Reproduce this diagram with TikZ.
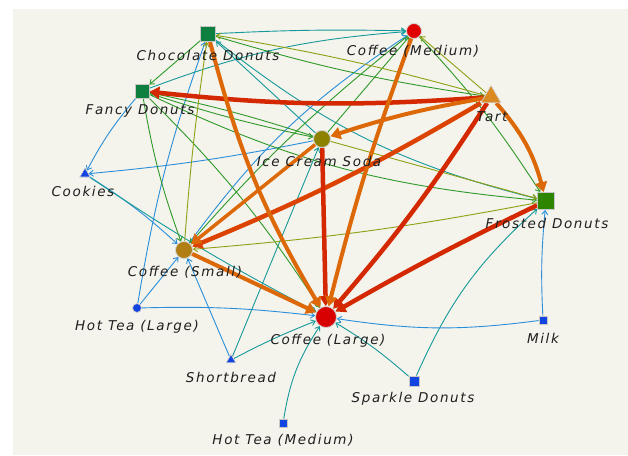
\documentclass[tikz,border=0pt]{standalone}
\usepackage{fontspec}
\setmainfont{DejaVu Sans}
\newfontfamily\lblfont[LetterSpace=12]{DejaVu Sans}
\usetikzlibrary{arrows.meta,shapes.geometric}
\definecolor{bgc}{HTML}{F4F3EC}
\definecolor{cred}{HTML}{D42800}
\definecolor{credor}{HTML}{DC4200}
\definecolor{corange}{HTML}{DC6808}
\definecolor{cgreen}{HTML}{2F9A2A}
\definecolor{cteal}{HTML}{16999A}
\definecolor{cblue}{HTML}{2A8FDA}
\definecolor{colive}{HTML}{8FA012}
\definecolor{ndkgreen}{HTML}{0E7F3E}
\definecolor{nfgreen}{HTML}{2E8500}
\definecolor{nblue}{HTML}{1244E0}
\definecolor{nred}{HTML}{E00000}
\definecolor{nredb}{HTML}{D80000}
\definecolor{ngold}{HTML}{B07E12}
\definecolor{nolive}{HTML}{8C8200}
\definecolor{norange}{HTML}{DB8A22}
\pgfdeclarelayer{bg}
\pgfdeclarelayer{edges}
\pgfsetlayers{bg,edges,main}
\tikzset{
  lbl/.style={font=\lblfont\itshape\fontsize{13.5}{14}\selectfont, inner sep=0pt, text=black!88},
  sqn/.style={rectangle, minimum size=#1, inner sep=0pt, draw=black!22, line width=0.8pt},
  crn/.style={circle, minimum size=#1, inner sep=0pt, draw=black!18, line width=0.8pt},
  trn/.style={regular polygon, regular polygon sides=3, minimum size=#1, inner sep=0pt, draw=black!18, line width=0.6pt},
  thinedge/.style={line width=0.9pt, -{Straight Barb[length=4pt,width=6pt]}},
  eb/.style={thinedge, cblue},
  ete/.style={thinedge, cteal},
  egr/.style={thinedge, cgreen},
  eol/.style={thinedge, colive},
  fatedge/.style={-{Triangle[length=10pt,width=12pt]}},
  fatred/.style={fatedge, line width=4.5pt, cred},
  fatredor/.style={fatedge, line width=4.5pt, credor},
  fatorange/.style={fatedge, line width=4pt, corange},
}
\begin{document}
\begin{tikzpicture}[x=1pt,y=-1pt]
\useasboundingbox (0,0) rectangle (628,455);
\begin{pgfonlayer}{bg}
\fill[bgc] (13,9) rectangle (628,455);
\end{pgfonlayer}
% nodes
\node[sqn=15, fill=ndkgreen] (cd) at (208,34) {};
\node[crn=15, fill=nred] (cm) at (414,31) {};
\node[sqn=14, fill=ndkgreen] (fd) at (142,91) {};
\node[trn=23, fill=norange] (tart) at (491,97) {};
\node[crn=17, fill=nolive] (ics) at (322,139) {};
\node[trn=12, fill=nblue] (cook) at (85,174) {};
\node[sqn=17, fill=nfgreen] (frd) at (546,201) {};
\node[crn=17, fill=ngold] (cs) at (184,250) {};
\node[crn=9, fill=nblue] (htl) at (137,308) {};
\node[crn=21, fill=nredb] (cl) at (326,317) {};
\node[sqn=8, fill=nblue] (milk) at (543,320) {};
\node[trn=11, fill=nblue] (sb) at (231,360) {};
\node[sqn=10, fill=nblue] (spd) at (414,381) {};
\node[sqn=8, fill=nblue] (htm) at (283,423) {};
% labels
\node[lbl] (cd-l) at (208,55) {Chocolate Donuts};
\node[lbl] (cm-l) at (413,51) {Coffee (Medium)};
\node[lbl] (fd-l) at (140,111) {Fancy Donuts};
\node[lbl] (tart-l) at (492,117) {Tart};
\node[lbl] (ics-l) at (319,161) {Ice Cream Soda};
\node[lbl] (cook-l) at (83,191) {Cookies};
\node[lbl] (frd-l) at (547,223) {Frosted Donuts};
\node[lbl] (cs-l) at (185,272) {Coffee (Small)};
\node[lbl] (htl-l) at (137,327) {Hot Tea (Large)};
\node[lbl] (cl-l) at (328,341) {Coffee (Large)};
\node[lbl] (milk-l) at (543,338) {Milk};
\node[lbl] (sb-l) at (231,377) {Shortbread};
\node[lbl] (spd-l) at (413,399) {Sparkle Donuts};
\node[lbl] (htm-l) at (283,440) {Hot Tea (Medium)};
\begin{pgfonlayer}{edges}
% thin edges
\draw[eb] (fd) to[bend right=6] (cook);
\draw[eb] (ics) to[bend left=3] (cook);
\draw[eb] (cook) to[bend left=5] (cs);
\draw[ete] (cook) to[bend right=3] (cl);
\draw[eb] (htl) to[bend left=5] (cd);
\draw[eb] (htl) -- (cs);
\draw[eb] (htl) to[bend left=4] (cl);
\draw[eb] (sb) -- (cs);
\draw[ete] (sb) -- (ics);
\draw[ete] (sb) to[bend left=3] (cl);
\draw[ete] (htm) to[bend left=12] (cl);
\draw[ete] (spd) to[bend right=5] (cl);
\draw[ete] (spd) to[bend left=12] (frd);
\draw[eb] (milk) to[bend left=8] (cl);
\draw[eb] (milk) to[bend left=4] (frd);
\draw[eb] (cs) to[bend left=10] (cm);
\draw[ete] (cd) to[bend left=2] (cm);
\draw[ete] (fd) to[bend left=8] (cm);
\draw[ete] (cd) to[bend right=12] (frd);
\draw[ete] (ics) -- (cd);
\draw[egr] (fd) to[bend right=3] (ics);
\draw[egr] (ics) to[bend right=3] (fd);
\draw[egr] (fd) to[bend right=10] (frd);
\draw[egr] (fd) to[bend right=5] (cs);
\draw[egr] (fd) to[bend left=6] (cl);
\draw[egr] (cd) -- (fd);
\draw[egr] (ics) -- (cm);
\draw[egr] (cm) to[bend left=5] (frd);
\draw[egr] (cm) to[bend right=5] (cs);
\draw[egr] (cd) to[bend right=4] (tart);
\draw[eol] (tart) to[bend right=3] (cd);
\draw[eol] (tart) -- (cm);
\draw[eol] (cs) to[bend left=2] (cd);
\draw[eol] (frd) to[bend left=3] (cs);
\draw[eol] (ics) -- (frd);
% thick edges
\draw[fatred] (tart) to[bend left=5] (fd);
\draw[fatorange] (tart) to[bend right=4] (ics);
\draw[fatredor] (tart) to[bend left=4] (cs);
\draw[fatred] (tart) to[bend left=4] (cl);
\draw[fatorange] (tart) to[bend left=13] (frd);
\draw[fatred] (frd) to[bend right=2] (cl);
\draw[fatred] (ics) -- (cl);
\draw[fatorange] (cm) to[bend right=3] (cl);
\draw[fatorange] (cd) to[bend right=8] (cl);
\draw[fatorange] (cs) -- (cl);
\draw[fatorange, line width=3.5pt] (ics) -- (cs);
\end{pgfonlayer}
\end{tikzpicture}
\end{document}
